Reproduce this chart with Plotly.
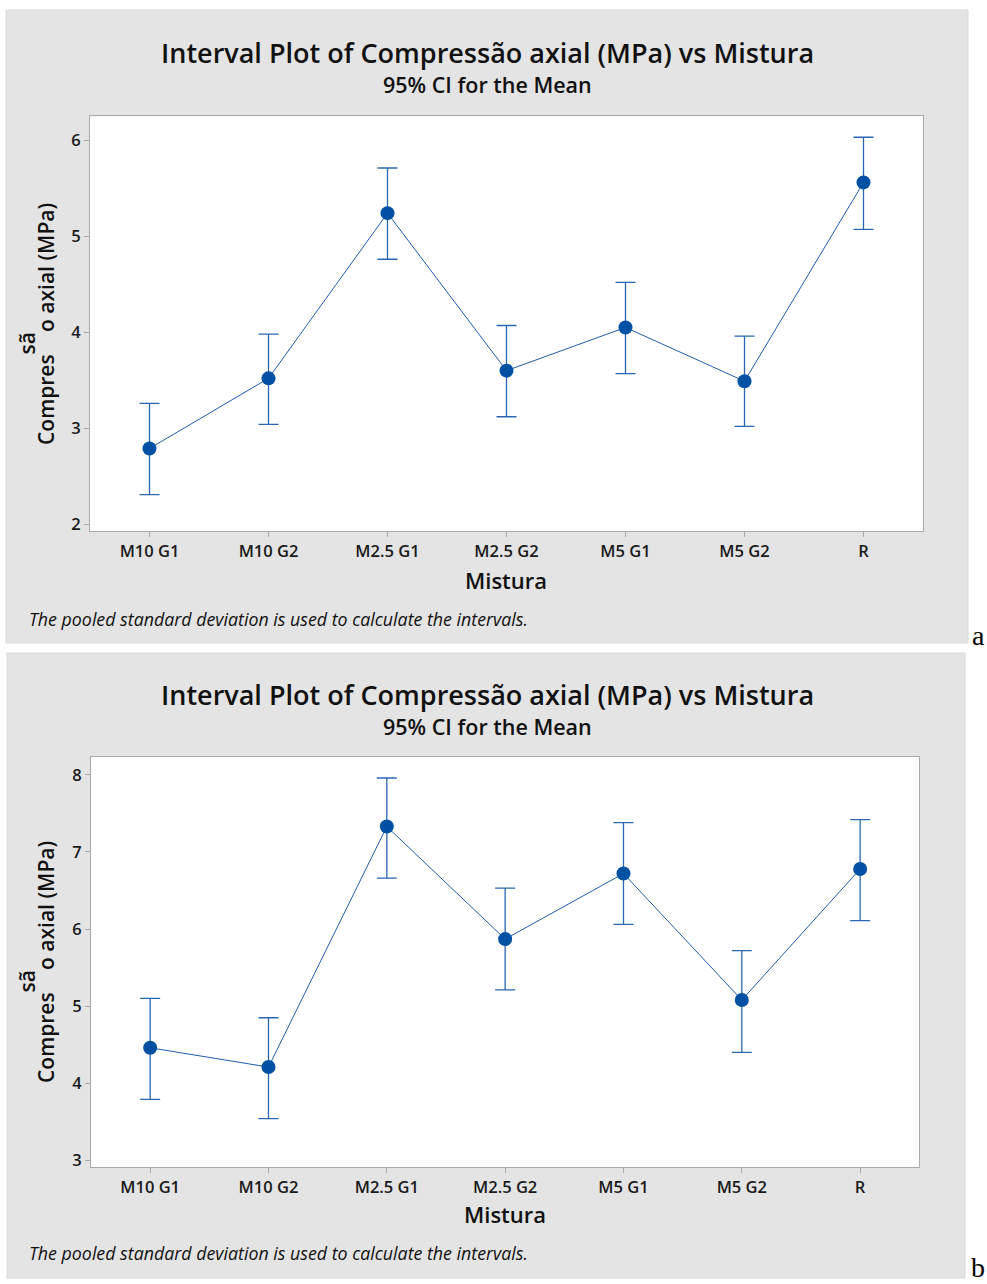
import plotly.graph_objects as go

# ---------------- data ----------------
categories = ["M10 G1", "M10 G2", "M2.5 G1", "M2.5 G2", "M5 G1", "M5 G2", "R"]

mean_a = [2.79, 3.52, 5.24, 3.60, 4.05, 3.49, 5.56]
lower_a = [2.31, 3.04, 4.76, 3.12, 3.57, 3.02, 5.07]
upper_a = [3.26, 3.98, 5.71, 4.07, 4.52, 3.96, 6.03]

mean_b = [4.46, 4.21, 7.33, 5.87, 6.72, 5.08, 6.78]
lower_b = [3.79, 3.54, 6.66, 5.21, 6.06, 4.40, 6.11]
upper_b = [5.10, 4.85, 7.96, 6.53, 7.38, 5.72, 7.42]

yticks_a = [2, 3, 4, 5, 6]
yticks_b = [3, 4, 5, 6, 7, 8]

title_text = "Interval Plot of Compressão axial (MPa) vs Mistura"
subtitle_text = "95% CI for the Mean"
xlabel = "Mistura"
foot_text = "The pooled standard deviation is used to calculate the intervals."

# ---------------- geometry helpers ----------------
W, H = 987, 1284
def px(x):
    return x / W
def py(y):
    return 1 - y / H

FONT = "Open Sans"
MARK = "#0050A4"
LINE = "#1F5CAB"
ERR = "#2A67B2"
FRAME = "#A9A9A9"
GREY = "#E4E4E4"

fig = go.Figure()

def add_series(means, lows, ups, xa, ya):
    fig.add_trace(go.Scatter(
        x=categories, y=means, xaxis=xa, yaxis=ya,
        mode="lines+markers",
        line=dict(color=LINE, width=1),
        marker=dict(size=14, color=MARK),
        error_y=dict(type="data", symmetric=False,
                     array=[u - m for u, m in zip(ups, means)],
                     arrayminus=[m - l for m, l in zip(means, lows)],
                     color=ERR, thickness=1.3, width=10),
        showlegend=False, hoverinfo="x+y",
    ))

add_series(mean_a, lower_a, upper_a, "x", "y")
add_series(mean_b, lower_b, upper_b, "x2", "y2")

# panel pixel boxes
pa = dict(l=90, r=923, t=116.5, b=533)
pb = dict(l=91, r=919.3, t=759.3, b=1170.7)
ga = dict(l=6, r=968, t=10, b=645)
gb = dict(l=7, r=965, t=655, b=1282)

tickfont = dict(family=FONT, size=16.5, color="#1A1A1A", weight=600)

def xaxis_cfg(p, anchor):
    return dict(domain=[px(p["l"]), px(p["r"])], anchor=anchor,
                type="category", categoryorder="array", categoryarray=categories,
                range=[-0.5, 6.5], showline=True, mirror=True, linecolor=FRAME,
                linewidth=1, ticks="outside", ticklen=5, tickcolor=FRAME,
                showgrid=False, zeroline=False, tickfont=tickfont)

def yaxis_cfg(p, anchor, rng, tv):
    return dict(domain=[py(p["b"]), py(p["t"])], anchor=anchor,
                range=rng, tickvals=tv, showline=True, mirror=True,
                linecolor=FRAME, linewidth=1, ticks="outside", ticklen=5,
                tickcolor=FRAME, showgrid=False, zeroline=False,
                tickfont=tickfont)

shapes = []
for g in (ga, gb):
    shapes.append(dict(type="rect", xref="paper", yref="paper",
                       x0=px(g["l"]), x1=px(g["r"]), y0=py(g["b"]), y1=py(g["t"]),
                       fillcolor=GREY, line=dict(color="#DADADA", width=1), layer="below"))
for p in (pa, pb):
    shapes.append(dict(type="rect", xref="paper", yref="paper",
                       x0=px(p["l"]), x1=px(p["r"]), y0=py(p["b"]), y1=py(p["t"]),
                       fillcolor="white", line=dict(width=0), layer="below"))

annotations = []
def ann(text, x, y, size, weight=400, italic=False, xanchor="center", angle=0,
        family=FONT, color="#111111"):
    annotations.append(dict(
        text=text, x=px(x), y=py(y), xref="paper", yref="paper",
        xanchor=xanchor, yanchor="middle", showarrow=False, textangle=angle,
        font=dict(family=family, size=size, color=color, weight=weight,
                  style="italic" if italic else "normal")))

for (p, tty, sty, xty, fty, ycen, letter_y, letter) in (
        (pa, 53, 85, 582, 621, 325, 637, "a"),
        (pb, 697, 729, 1218, 1257, 965, 1271, "b")):
    xc = (p["l"] + p["r"]) / 2
    ann(title_text, 487, tty, 27, weight=600)
    ann(subtitle_text, 487, sty, 21.5, weight=600)
    ann(xlabel, xc, xty, 22, weight=600)
    ann(foot_text, 27, fty, 17.8, italic=True, xanchor="left")
    # y-axis title with the displaced "sã"
    ann("Compres<span style='color:rgba(0,0,0,0)'>sã</span>o axial (MPa)",
        46, ycen, 21, weight=600, angle=-90)
    ann("sã", 27, ycen + 19.5, 21, weight=600, angle=-90)
    ann(letter, 978, letter_y, 28, family="Liberation Serif", color="#000000")

fig.update_layout(
    width=W, height=H, margin=dict(l=0, r=0, t=0, b=0),
    paper_bgcolor="white", plot_bgcolor="white",
    xaxis=xaxis_cfg(pa, "y"), yaxis=yaxis_cfg(pa, "x", [1.927, 6.25], yticks_a),
    xaxis2=xaxis_cfg(pb, "y2"), yaxis2=yaxis_cfg(pb, "x2", [2.913, 8.233], yticks_b),
    shapes=shapes, annotations=annotations,
)

fig.write_html("out.html")
